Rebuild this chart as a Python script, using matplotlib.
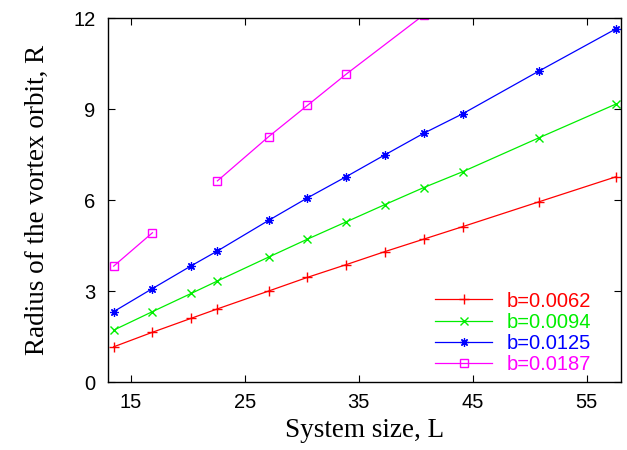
import numpy as np
import matplotlib
matplotlib.use("Agg")
import matplotlib.pyplot as plt

# System size L and orbit radius R
L = [13.5, 16.9, 20.3, 22.6, 27.1, 30.5, 33.9, 37.3, 40.7, 44.1, 50.8, 57.6]
R_0062 = [1.16, 1.64, 2.10, 2.41, 3.00, 3.45, 3.87, 4.30, 4.71, 5.12, 5.94, 6.77]
R_0094 = [1.71, 2.32, 2.92, 3.33, 4.12, 4.71, 5.28, 5.85, 6.41, 6.93, 8.05, 9.17]
R_0125 = [2.32, 3.08, 3.83, 4.32, 5.33, 6.07, 6.77, 7.49, 8.20, 8.84, 10.25, 11.65]
# b=0.0187 has a break after L=16.9 (nan splits the line)
L_0187 = [13.5, 16.9, np.nan, 22.6, 27.1, 30.5, 33.9, 40.7]
R_0187 = [3.82, 4.92, np.nan, 6.63, 8.09, 9.12, 10.15, 12.1]

xticks = [15, 25, 35, 45, 55]
yticks = [0, 3, 6, 9, 12]

fig = plt.figure(figsize=(6.27, 4.5), dpi=100)
ax = fig.add_axes([0.1722, 0.1511, 0.8182, 0.8089])

lw = 0.9
ax.plot(L, R_0062, '-', color='red', marker='+', ms=7, mew=1.0, lw=lw, label='b=0.0062')
ax.plot(L, R_0094, '-', color='#00ee00', marker='x', ms=6, mew=1.0, lw=lw, label='b=0.0094')
ax.plot(L, R_0125, '-', color='blue', marker=(8, 2, 0), ms=6, mew=0.9, lw=lw, label='b=0.0125')
ax.plot(L_0187, R_0187, '-', color='magenta', marker='s', ms=6, mfc='none', mew=1.0, lw=lw,
        label='b=0.0187')

ax.set_xlim(13, 58)
ax.set_ylim(0, 12)
ax.set_xticks(xticks)
ax.set_yticks(yticks)
ax.tick_params(direction='in', top=True, right=True, length=5, width=0.8, labelsize=14.5)
ax.tick_params(axis='x', pad=8)
ax.tick_params(axis='y', pad=9)
for lab in ax.get_xticklabels() + ax.get_yticklabels():
    lab.set_family('Liberation Sans')
for s in ax.spines.values():
    s.set_linewidth(1.0)

ax.set_xlabel('System size, L', family='Liberation Serif', fontsize=19.5, labelpad=4)
ax.set_ylabel('Radius of the vortex orbit, R', family='Liberation Serif', fontsize=19.5,
              labelpad=17)

leg = ax.legend(loc='center', bbox_to_anchor=(0.790, 0.135), frameon=False,
                prop={'family': 'Liberation Sans', 'size': 14.5}, numpoints=1,
                handlelength=2.83, handletextpad=0.71, labelspacing=0.11, borderpad=0)
for txt, h in zip(leg.get_texts(), leg.legend_handles):
    txt.set_color(h.get_color())

fig.savefig('out.png', dpi=100)
